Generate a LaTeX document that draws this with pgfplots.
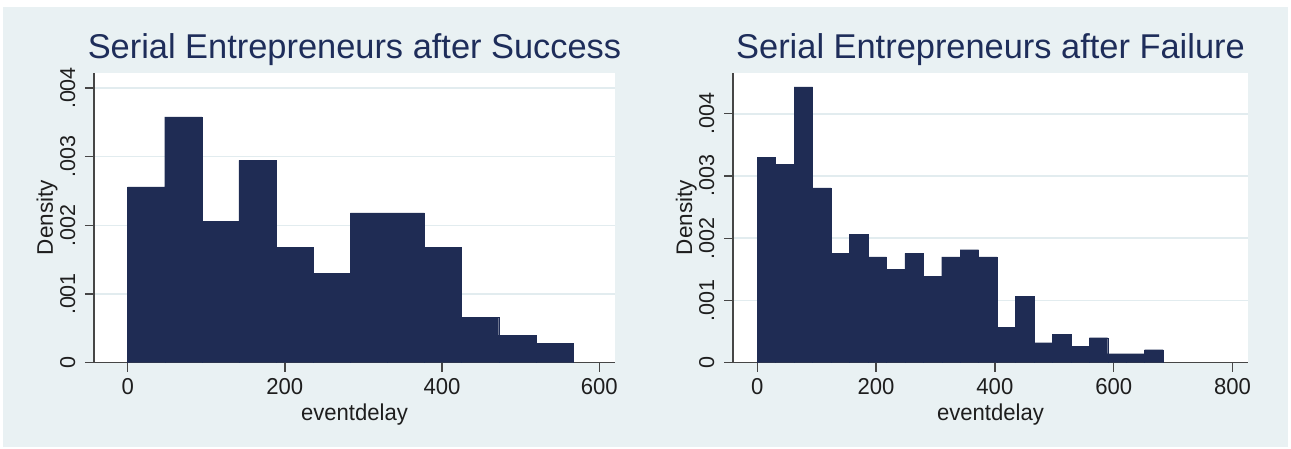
\documentclass[border=0pt]{standalone}
\usepackage{pgfplots}
\pgfplotsset{compat=1.18}
\usepackage{fontspec}
\setmainfont{Liberation Sans}
\newfontfamily\rotfont{Liberation Sans}
\newfontfamily\tickfont{Liberation Sans}[FakeStretch=0.96]
\definecolor{bgc}{RGB}{233,241,243}
\definecolor{gridc}{RGB}{226,236,239}
\definecolor{barc}{RGB}{31,44,84}
\definecolor{titlec}{RGB}{30,45,90}
\definecolor{axisc}{RGB}{70,70,70}
\definecolor{txtc}{RGB}{30,30,30}

\pgfplotstableread{
x y
0     0.00256
47.2  0.00358
94.4  0.00206
141.6 0.002945
188.8 0.00168
236.0 0.00130
283.2 0.00218
330.4 0.00218
377.6 0.00168
424.8 0.00066
472.0 0.00040
519.2 0.00028
566.4 0.00028
}\succdata

\pgfplotstableread{
x y
0      0.00330
31.05  0.00319
62.1   0.00443
93.15  0.00281
124.2  0.001756
155.25 0.00206
186.3  0.00170
217.35 0.001505
248.4  0.001756
279.45 0.00139
310.5  0.00170
341.55 0.001815
372.6  0.00170
403.65 0.000573
434.7  0.001066
465.75 0.000321
496.8  0.000455
527.85 0.000268
558.9  0.000402
589.95 0.000145
621.0  0.000145
652.05 0.000209
683.1  0.000209
}\faildata

\pgfplotsset{
  stata/.style={
    anchor=south west,
    scale only axis,
    height=290pt,
    ymin=0,
    axis x line*=bottom, axis y line*=left,
    axis line style={draw=axisc, line width=1.3pt, -},
    tick align=outside,
    major tick length=9pt,
    every tick/.style={draw=axisc, line width=1.3pt},
    ymajorgrids,
    grid style={draw=gridc, line width=1.6pt},
    axis background/.style={fill=white},
    ytick={0,0.001,0.002,0.003,0.004},
    yticklabels={0,.001,.002,.003,.004},
    scaled y ticks=false,
    scaled x ticks=false,
    xticklabel style={font=\tickfont\fontsize{23}{23}\selectfont, text=txtc, anchor=base, yshift=-23pt},
    yticklabel style={font=\rotfont\fontsize{21.5}{21.5}\selectfont, text=txtc, xshift=-10pt, rotate=90, anchor=base},
    every axis y label/.style={at={(axis description cs:0,0.5)}, xshift=-41pt, rotate=90, anchor=base, font=\rotfont\fontsize{22.5}{22.5}\selectfont, text=txtc},
    every axis x label/.style={at={(axis description cs:0.5,0)}, yshift=-57.5pt, anchor=base, font=\tickfont\fontsize{23}{23}\selectfont, text=txtc},
    every axis title/.style={at={(axis description cs:0.5,1)}, yshift=13.7pt, anchor=base, font=\fontsize{34.4}{40}\selectfont, text=titlec},
    xlabel={eventdelay},
    ylabel={Density},
  }
}

\begin{document}
\begin{tikzpicture}
\useasboundingbox (0,0) rectangle (1291pt,449pt);
\fill[white] (0,0) rectangle (1291pt,449pt);
\fill[bgc] (3pt,1.5pt) rectangle (1288pt,442pt);

\begin{axis}[stata,
  at={(94pt,86.3pt)}, width=521pt,
  xmin=-42.8, xmax=620, ymax=0.004223,
  xtick={0,200,400,600}, xticklabels={0,200,400,600},
  title={Serial Entrepreneurs after Success}]
\addplot[ybar interval, fill=barc, draw=barc, line width=0.3pt] table[x=x,y=y] {\succdata};
\end{axis}

\begin{axis}[stata,
  at={(733pt,86.3pt)}, width=515pt,
  xmin=-40.7, xmax=826, ymax=0.004659,
  xtick={0,200,400,600,800}, xticklabels={0,200,400,600,800},
  title={Serial Entrepreneurs after Failure}]
\addplot[ybar interval, fill=barc, draw=barc, line width=0.3pt] table[x=x,y=y] {\faildata};
\end{axis}
\end{tikzpicture}
\end{document}
